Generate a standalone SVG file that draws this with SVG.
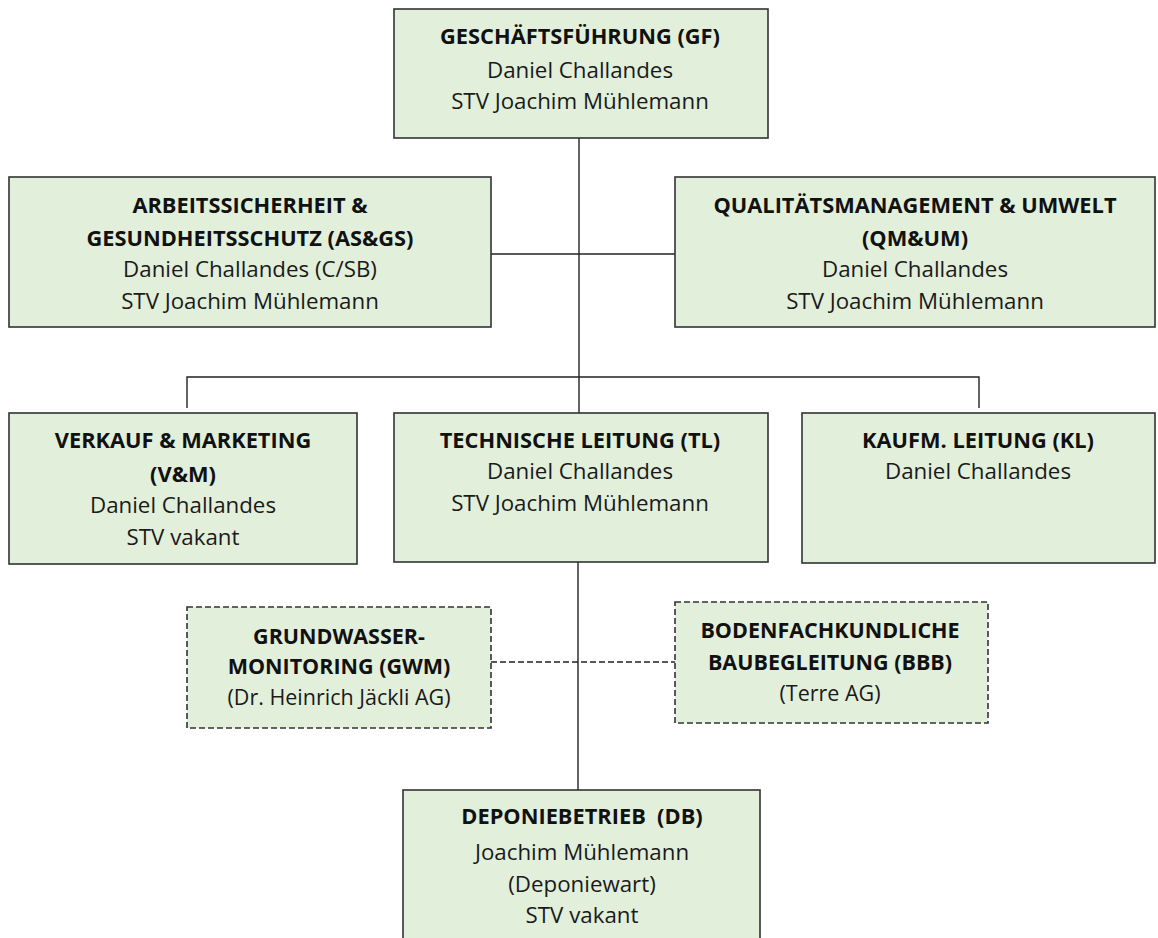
<svg xmlns="http://www.w3.org/2000/svg" width="1158" height="938" viewBox="0 0 1158 938">
<style>
.box{fill:#e2efda;stroke:#333;stroke-width:1.6}
.dbox{fill:#e2efda;stroke:#333;stroke-width:1.6;stroke-dasharray:6 3}
.ln{stroke:#222;stroke-width:1.4;fill:none}
.dl{stroke:#222;stroke-width:1.4;fill:none;stroke-dasharray:6 3}
text{font-family:"Open Sans",Lato,"Liberation Sans",sans-serif;font-size:22.3px;fill:#1a1a1a;text-anchor:middle}
.b{font-weight:bold;font-size:21.8px;fill:#111}
.c{font-size:21.5px}
</style>
<rect width="1158" height="938" fill="#fff"/>
<g id="connectors">
<line class="ln" x1="579" y1="138" x2="579" y2="413"/>
<line class="ln" x1="491" y1="254" x2="675" y2="254"/>
<polyline class="ln" points="187,408 187,377 979,377 979,408"/>
<line class="ln" x1="578" y1="562" x2="578" y2="790"/>
<line class="dl" x1="491" y1="662" x2="675" y2="662"/>
</g>
<g id="gf">
<rect class="box" x="394" y="9" width="374" height="129"/>
<text class="b" x="580" y="44">GESCHÄFTSFÜHRUNG (GF)</text>
<text x="580" y="78">Daniel Challandes</text>
<text x="580" y="109">STV Joachim Mühlemann</text>
</g>
<g id="asgs">
<rect class="box" x="9" y="177" width="482" height="150"/>
<text class="b" x="250" y="213">ARBEITSSICHERHEIT &amp;</text>
<text class="b" x="250" y="246">GESUNDHEITSSCHUTZ (AS&amp;GS)</text>
<text x="250" y="277">Daniel Challandes (C/SB)</text>
<text x="250" y="309">STV Joachim Mühlemann</text>
</g>
<g id="qmum">
<rect class="box" x="675" y="177" width="480" height="150"/>
<text class="b" x="915" y="213">QUALITÄTSMANAGEMENT &amp; UMWELT</text>
<text class="b" x="915" y="246">(QM&amp;UM)</text>
<text x="915" y="277">Daniel Challandes</text>
<text x="915" y="309">STV Joachim Mühlemann</text>
</g>
<g id="vm">
<rect class="box" x="9" y="413" width="348" height="151"/>
<text class="b" x="183" y="448">VERKAUF &amp; MARKETING</text>
<text class="b" x="183" y="482">(V&amp;M)</text>
<text x="183" y="513">Daniel Challandes</text>
<text x="183" y="545">STV vakant</text>
</g>
<g id="tl">
<rect class="box" x="394" y="413" width="374" height="149"/>
<text class="b" x="580" y="448">TECHNISCHE LEITUNG (TL)</text>
<text x="580" y="479">Daniel Challandes</text>
<text x="580" y="511">STV Joachim Mühlemann</text>
</g>
<g id="kl">
<rect class="box" x="802" y="413" width="353" height="150"/>
<text class="b" x="978" y="448">KAUFM. LEITUNG (KL)</text>
<text x="978" y="479">Daniel Challandes</text>
</g>
<g id="gwm">
<rect class="dbox" x="187" y="607" width="304" height="121"/>
<text class="b c" x="339" y="644">GRUNDWASSER-</text>
<text class="b c" x="339" y="674">MONITORING (GWM)</text>
<text class="c" x="339" y="705">(Dr. Heinrich Jäckli AG)</text>
</g>
<g id="bbb">
<rect class="dbox" x="675" y="602" width="313" height="121"/>
<text class="b c" x="830" y="638">BODENFACHKUNDLICHE</text>
<text class="b c" x="830" y="670">BAUBEGLEITUNG (BBB)</text>
<text class="c" x="830" y="701">(Terre AG)</text>
</g>
<g id="db">
<rect class="box" x="403" y="790" width="357" height="160"/>
<text class="b" x="582" y="824">DEPONIEBETRIEB&#160; (DB)</text>
<text x="582" y="860">Joachim Mühlemann</text>
<text x="582" y="892">(Deponiewart)</text>
<text x="582" y="923">STV vakant</text>
</g>
</svg>
